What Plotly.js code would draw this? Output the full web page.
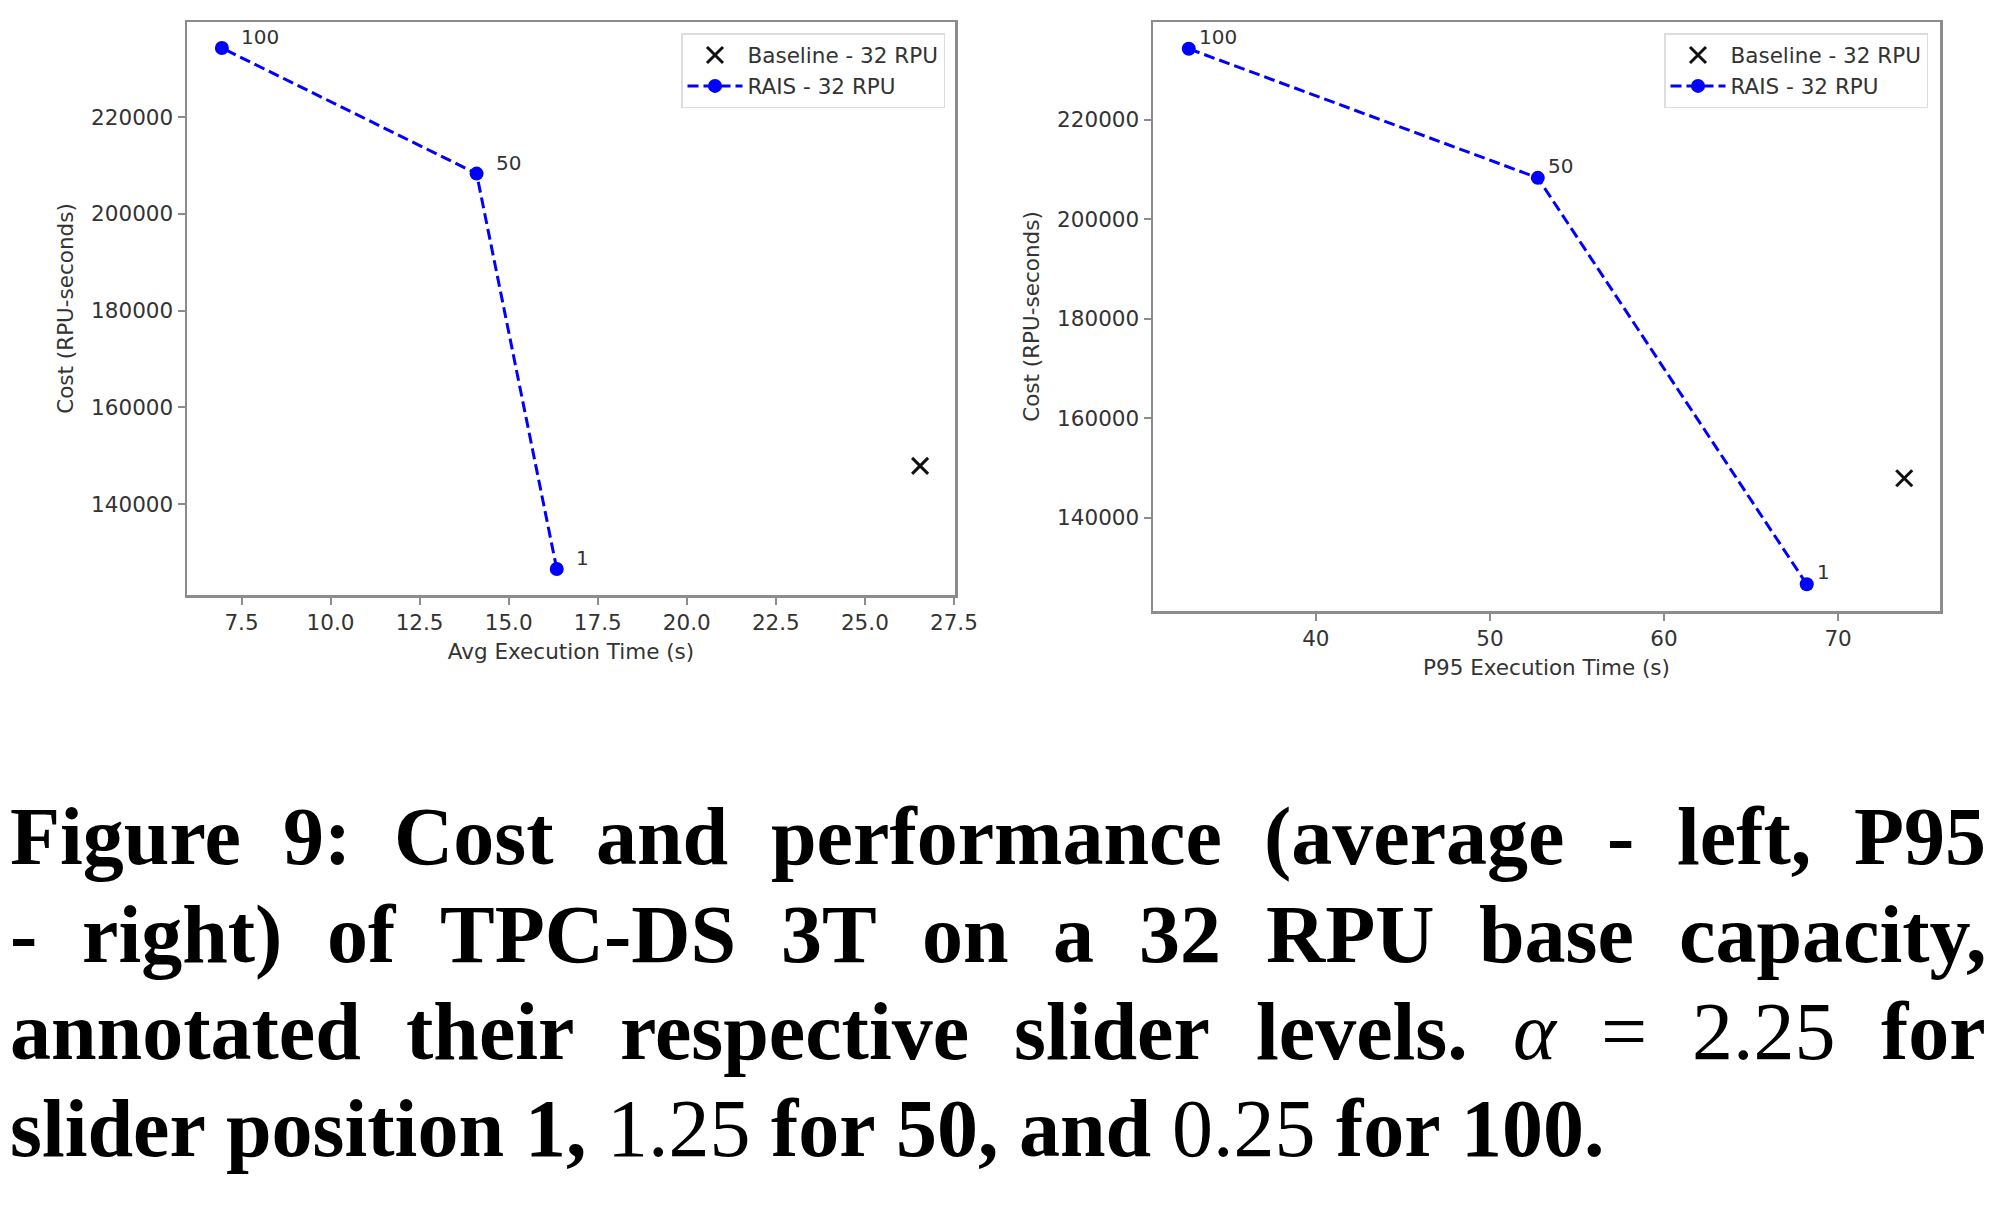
<!DOCTYPE html>
<html>
<head>
<meta charset="utf-8">
<script src="https://cdn.plot.ly/plotly-3.0.1.min.js"></script>
<style>
html, body { margin: 0; padding: 0; background: #fff; }
#chart { width: 2000px; height: 1205px; }
</style>
</head>
<body>
<div id="chart"></div>
<script>
// ---- data ----
const sliderLevels = [1, 50, 100];
const avgTime = [16.35, 14.1, 6.95];          // Avg execution time (s)
const p95Time = [68.2, 52.75, 32.7];          // P95 execution time (s)
const raisCost = [126600, 208300, 234250];    // Cost (RPU-seconds)
const baselineAvgTime = [26.55];
const baselineP95Time = [73.8];
const baselineCost = [147900];

const seriesNames = ['Baseline - 32 RPU', 'RAIS - 32 RPU'];
const xTitles = ['Avg Execution Time (s)', 'P95 Execution Time (s)'];
const yTitle = 'Cost (RPU-seconds)';

// caption tokens: [word, style]  b = bold, r = regular, i = italic
const captionLines = [
  [['Figure','b'],['9:','b'],['Cost','b'],['and','b'],['performance','b'],['(average','b'],['-','b'],['left,','b'],['P95','b']],
  [['-','b'],['right)','b'],['of','b'],['TPC-DS','b'],['3T','b'],['on','b'],['a','b'],['32','b'],['RPU','b'],['base','b'],['capacity,','b']],
  [['annotated','b'],['their','b'],['respective','b'],['slider','b'],['levels.','b'],['\u03B1','i'],['=','r'],['2.25','r'],['for','b']],
  [['slider','b'],['position','b'],['1,','b'],['1.25','r'],['for','b'],['50,','b'],['and','b'],['0.25','r'],['for','b'],['100.','b']]
];

// ---- layout constants ----
const W = 2000, H = 1205;
const FS = 21.5;
const textFont = { family: 'DejaVu Sans', size: FS, color: '#333' };

function padRange(arr) {
  const mn = Math.min(...arr), mx = Math.max(...arr);
  const d = (mx - mn) * 0.05;
  return [mn - d, mx + d];
}

const axisStyle = {
  showgrid: false, zeroline: false,
  showline: true, mirror: true, linecolor: '#8c8c8c', linewidth: 2.5,
  ticks: 'outside', ticklen: 7, tickwidth: 2, tickcolor: '#8c8c8c',
  tickfont: textFont
};

const xMarker = { symbol: 'x-thin', size: 16, color: '#111', line: { width: 3, color: '#111' } };
const raisLine = { color: '#0000ff', width: 3, dash: '11px,5px' };
const raisMarker = { size: 14, color: '#0000ff' };

const traces = [
  { x: baselineAvgTime, y: baselineCost, mode: 'markers', name: seriesNames[0], marker: xMarker, xaxis: 'x', yaxis: 'y', legend: 'legend' },
  { x: avgTime, y: raisCost, mode: 'lines+markers', name: seriesNames[1], line: raisLine, marker: raisMarker, xaxis: 'x', yaxis: 'y', legend: 'legend' },
  { x: baselineP95Time, y: baselineCost, mode: 'markers', name: seriesNames[0], marker: xMarker, xaxis: 'x2', yaxis: 'y2', legend: 'legend2' },
  { x: p95Time, y: raisCost, mode: 'lines+markers', name: seriesNames[1], line: raisLine, marker: raisMarker, xaxis: 'x2', yaxis: 'y2', legend: 'legend2' }
];

const annotations = [];
sliderLevels.forEach((lvl, i) => {
  annotations.push({ x: avgTime[i], y: raisCost[i], xref: 'x', yref: 'y', text: String(lvl), showarrow: false,
    xanchor: 'left', yanchor: 'middle', xshift: 17, yshift: 11, font: { family: 'DejaVu Sans', size: 20, color: '#333' } });
  annotations.push({ x: p95Time[i], y: raisCost[i], xref: 'x2', yref: 'y2', text: String(lvl), showarrow: false,
    xanchor: 'left', yanchor: 'middle', xshift: 8, yshift: 12, font: { family: 'DejaVu Sans', size: 20, color: '#333' } });
});

// ---- caption (justified, word by word) ----
const capSize = 82;
const capFamily = 'Liberation Serif';
const canvas = document.createElement('canvas');
const ctx = canvas.getContext('2d');
function fontStr(style) {
  if (style === 'b') return 'bold ' + capSize + 'px "' + capFamily + '"';
  if (style === 'i') return 'italic ' + capSize + 'px "' + capFamily + '"';
  return capSize + 'px "' + capFamily + '"';
}
function measure(t, style) { ctx.font = fontStr(style); return ctx.measureText(t).width; }
const capLeft = 10, capRight = 1986;
const capBaselines = [859, 957, 1054, 1151];
captionLines.forEach((toks, li) => {
  const widths = toks.map(t => measure(t[0], t[1]));
  const total = widths.reduce((a, b) => a + b, 0);
  const last = li === captionLines.length - 1;
  const gap = last ? measure(' ', 'b') : (capRight - capLeft - total) / (toks.length - 1);
  let x = capLeft;
  const yMid = capBaselines[li] - 0.27 * capSize;
  toks.forEach((t, k) => {
    annotations.push({
      x: x / W, y: 1 - yMid / H, xref: 'paper', yref: 'paper', xanchor: 'left', yanchor: 'middle',
      text: t[0], showarrow: false, borderpad: 0, borderwidth: 0,
      font: { family: capFamily, size: capSize, color: '#000',
              weight: t[1] === 'b' ? 'bold' : 'normal', style: t[1] === 'i' ? 'italic' : 'normal' }
    });
    x += widths[k] + gap;
  });
});

const legendStyle = {
  xanchor: 'right', yanchor: 'top', bgcolor: 'rgba(255,255,255,0.8)',
  bordercolor: '#dddddd', borderwidth: 1.5, font: textFont,
  itemwidth: 55
};

const layout = {
  width: W, height: H,
  margin: { l: 0, r: 0, t: 0, b: 0 },
  paper_bgcolor: '#fff', plot_bgcolor: '#fff',
  showlegend: true,
  xaxis: Object.assign({}, axisStyle, {
    domain: [187 / W, 955 / W], anchor: 'y',
    range: padRange(avgTime.concat(baselineAvgTime)), dtick: 2.5, tick0: 0, tickformat: '.1f',
    title: { text: xTitles[0], font: textFont, standoff: 10 }
  }),
  yaxis: Object.assign({}, axisStyle, {
    domain: [1 - 595 / H, 1 - 22 / H], anchor: 'x',
    range: padRange(raisCost.concat(baselineCost)), dtick: 20000, tick0: 0, tickformat: 'd',
    title: { text: yTitle, font: textFont, standoff: 12 }
  }),
  xaxis2: Object.assign({}, axisStyle, {
    domain: [1153 / W, 1940 / W], anchor: 'y2',
    range: padRange(p95Time.concat(baselineP95Time)), dtick: 10, tick0: 0, tickformat: 'd',
    title: { text: xTitles[1], font: textFont, standoff: 10 }
  }),
  yaxis2: Object.assign({}, axisStyle, {
    domain: [1 - 611 / H, 1 - 22 / H], anchor: 'x2',
    range: padRange(raisCost.concat(baselineCost)), dtick: 20000, tick0: 0, tickformat: 'd',
    title: { text: yTitle, font: textFont, standoff: 12 }
  }),
  legend: Object.assign({}, legendStyle, { x: 945 / W, y: 1 - 33 / H }),
  legend2: Object.assign({}, legendStyle, { x: 1928 / W, y: 1 - 33 / H }),
  annotations: annotations
};

Plotly.newPlot('chart', traces, layout, { displayModeBar: false, staticPlot: true });
</script>
</body>
</html>
